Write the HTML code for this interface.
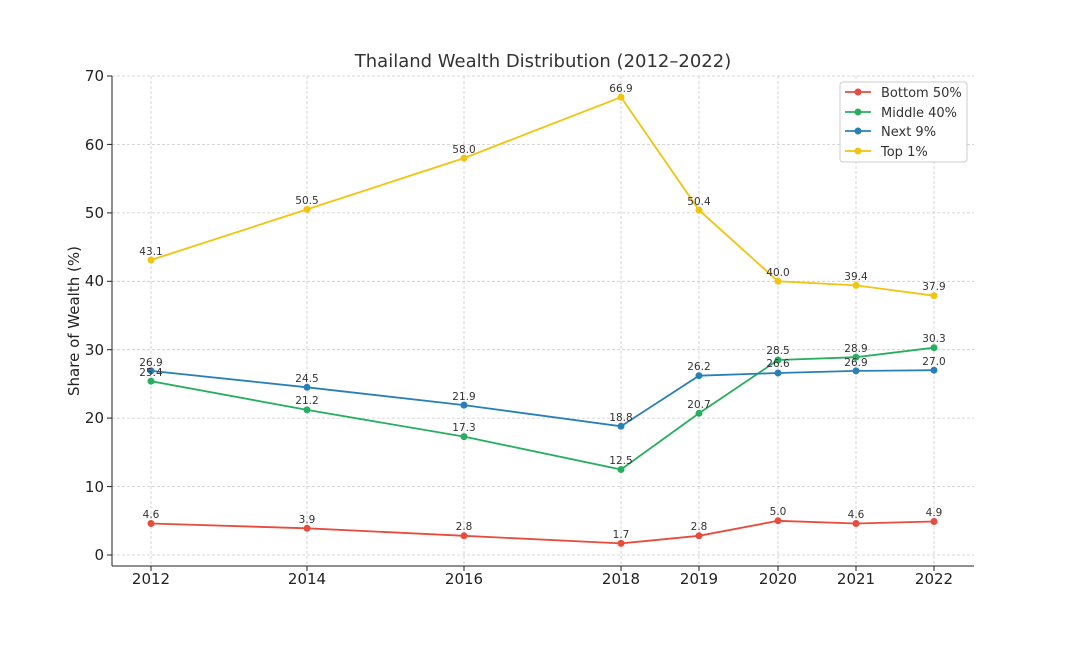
<!DOCTYPE html>
<html><head><meta charset="utf-8"><style>body{margin:0;background:#fff}svg{display:block;font-family:"DejaVu Sans","Liberation Sans",sans-serif}</style></head><body>
<svg width="1087" height="656" viewBox="0 0 1087 656">
<rect width="1087" height="656" fill="#fff"/>
<g stroke="#ccc" stroke-dasharray="3,2" stroke-width="0.8">
<line x1="151" y1="76" x2="151" y2="566"/><line x1="307" y1="76" x2="307" y2="566"/><line x1="464" y1="76" x2="464" y2="566"/><line x1="621" y1="76" x2="621" y2="566"/><line x1="699" y1="76" x2="699" y2="566"/><line x1="778" y1="76" x2="778" y2="566"/><line x1="856" y1="76" x2="856" y2="566"/><line x1="934" y1="76" x2="934" y2="566"/>
<line x1="112" y1="555" x2="974" y2="555"/><line x1="112" y1="486.6" x2="974" y2="486.6"/><line x1="112" y1="418.1" x2="974" y2="418.1"/><line x1="112" y1="349.7" x2="974" y2="349.7"/><line x1="112" y1="281.3" x2="974" y2="281.3"/><line x1="112" y1="212.9" x2="974" y2="212.9"/><line x1="112" y1="144.4" x2="974" y2="144.4"/><line x1="112" y1="76" x2="974" y2="76"/>
</g>
<line x1="112" y1="76" x2="112" y2="566" stroke="#222" stroke-width="1"/>
<line x1="112" y1="566" x2="974" y2="566" stroke="#222" stroke-width="1"/>
<g stroke="#222"><line x1="107" y1="555" x2="112" y2="555"/><line x1="107" y1="486.6" x2="112" y2="486.6"/><line x1="107" y1="418.1" x2="112" y2="418.1"/><line x1="107" y1="349.7" x2="112" y2="349.7"/><line x1="107" y1="281.3" x2="112" y2="281.3"/><line x1="107" y1="212.9" x2="112" y2="212.9"/><line x1="107" y1="144.4" x2="112" y2="144.4"/><line x1="107" y1="76" x2="112" y2="76"/>
<line x1="151" y1="566" x2="151" y2="571"/><line x1="307" y1="566" x2="307" y2="571"/><line x1="464" y1="566" x2="464" y2="571"/><line x1="621" y1="566" x2="621" y2="571"/><line x1="699" y1="566" x2="699" y2="571"/><line x1="778" y1="566" x2="778" y2="571"/><line x1="856" y1="566" x2="856" y2="571"/><line x1="934" y1="566" x2="934" y2="571"/></g>
<g font-size="15" fill="#222" text-anchor="end"><text x="104" y="560">0</text><text x="104" y="492">10</text><text x="104" y="423">20</text><text x="104" y="355">30</text><text x="104" y="286">40</text><text x="104" y="218">50</text><text x="104" y="150">60</text><text x="104" y="81">70</text></g>
<g font-size="15" fill="#222" text-anchor="middle"><text x="151" y="584">2012</text><text x="307" y="584">2014</text><text x="464" y="584">2016</text><text x="621" y="584">2018</text><text x="699" y="584">2019</text><text x="778" y="584">2020</text><text x="856" y="584">2021</text><text x="934" y="584">2022</text></g>
<text x="543" y="67" font-size="18" fill="#333" text-anchor="middle">Thailand Wealth Distribution (2012–2022)</text>
<text transform="translate(79,321) rotate(-90)" font-size="15" fill="#222" text-anchor="middle">Share of Wealth (%)</text>
<g fill="none" stroke-width="1.8">
<polyline stroke="#e74c3c" points="151,523.5 307,528.3 464,535.8 621,543.4 699,535.8 778,520.8 856,523.5 934,521.5"/>
<polyline stroke="#27ae60" points="151,381.2 307,409.9 464,436.6 621,469.5 699,413.3 778,360 856,357.2 934,347.7"/>
<polyline stroke="#2980b9" points="151,370.9 307,387.3 464,405.1 621,426.3 699,375.7 778,373 856,370.9 934,370.2"/>
<polyline stroke="#f1c40f" points="151,260 307,209.4 464,158.1 621,97.2 699,210.1 778,281.3 856,285.4 934,295.7"/>
</g>
<g fill="#e74c3c"><circle cx="151" cy="523.5" r="3.5"/><circle cx="307" cy="528.3" r="3.5"/><circle cx="464" cy="535.8" r="3.5"/><circle cx="621" cy="543.4" r="3.5"/><circle cx="699" cy="535.8" r="3.5"/><circle cx="778" cy="520.8" r="3.5"/><circle cx="856" cy="523.5" r="3.5"/><circle cx="934" cy="521.5" r="3.5"/></g>
<g fill="#27ae60"><circle cx="151" cy="381.2" r="3.5"/><circle cx="307" cy="409.9" r="3.5"/><circle cx="464" cy="436.6" r="3.5"/><circle cx="621" cy="469.5" r="3.5"/><circle cx="699" cy="413.3" r="3.5"/><circle cx="778" cy="360" r="3.5"/><circle cx="856" cy="357.2" r="3.5"/><circle cx="934" cy="347.7" r="3.5"/></g>
<g fill="#2980b9"><circle cx="151" cy="370.9" r="3.5"/><circle cx="307" cy="387.3" r="3.5"/><circle cx="464" cy="405.1" r="3.5"/><circle cx="621" cy="426.3" r="3.5"/><circle cx="699" cy="375.7" r="3.5"/><circle cx="778" cy="373" r="3.5"/><circle cx="856" cy="370.9" r="3.5"/><circle cx="934" cy="370.2" r="3.5"/></g>
<g fill="#f1c40f"><circle cx="151" cy="260" r="3.5"/><circle cx="307" cy="209.4" r="3.5"/><circle cx="464" cy="158.1" r="3.5"/><circle cx="621" cy="97.2" r="3.5"/><circle cx="699" cy="210.1" r="3.5"/><circle cx="778" cy="281.3" r="3.5"/><circle cx="856" cy="285.4" r="3.5"/><circle cx="934" cy="295.7" r="3.5"/></g>
<g font-size="10.5" fill="#333" text-anchor="middle">
<text x="151" y="518">4.6</text><text x="307" y="523">3.9</text><text x="464" y="530">2.8</text><text x="621" y="538">1.7</text><text x="699" y="530">2.8</text><text x="778" y="515">5.0</text><text x="856" y="518">4.6</text><text x="934" y="516">4.9</text>
<text x="151" y="376">25.4</text><text x="307" y="404">21.2</text><text x="464" y="431">17.3</text><text x="621" y="464">12.5</text><text x="699" y="408">20.7</text><text x="778" y="354">28.5</text><text x="856" y="352">28.9</text><text x="934" y="342">30.3</text>
<text x="151" y="366">26.9</text><text x="307" y="382">24.5</text><text x="464" y="400">21.9</text><text x="621" y="421">18.8</text><text x="699" y="370">26.2</text><text x="778" y="367">26.6</text><text x="856" y="366">26.9</text><text x="934" y="365">27.0</text>
<text x="151" y="255">43.1</text><text x="307" y="204">50.5</text><text x="464" y="153">58.0</text><text x="621" y="92">66.9</text><text x="699" y="205">50.4</text><text x="778" y="276">40.0</text><text x="856" y="280">39.4</text><text x="934" y="290">37.9</text>
</g>
<rect x="840" y="82" width="127" height="80" fill="#fff" stroke="#ccc" rx="3"/>
<g stroke-width="1.8"><line x1="845" y1="92" x2="871" y2="92" stroke="#e74c3c"/><line x1="845" y1="112" x2="871" y2="112" stroke="#27ae60"/><line x1="845" y1="131" x2="871" y2="131" stroke="#2980b9"/><line x1="845" y1="151" x2="871" y2="151" stroke="#f1c40f"/></g>
<circle cx="858" cy="92" r="3.5" fill="#e74c3c"/><circle cx="858" cy="112" r="3.5" fill="#27ae60"/><circle cx="858" cy="131" r="3.5" fill="#2980b9"/><circle cx="858" cy="151" r="3.5" fill="#f1c40f"/>
<g font-size="13" fill="#333"><text x="881" y="97">Bottom 50%</text><text x="881" y="117">Middle 40%</text><text x="881" y="136">Next 9%</text><text x="881" y="156">Top 1%</text></g>
</svg>
</body></html>
